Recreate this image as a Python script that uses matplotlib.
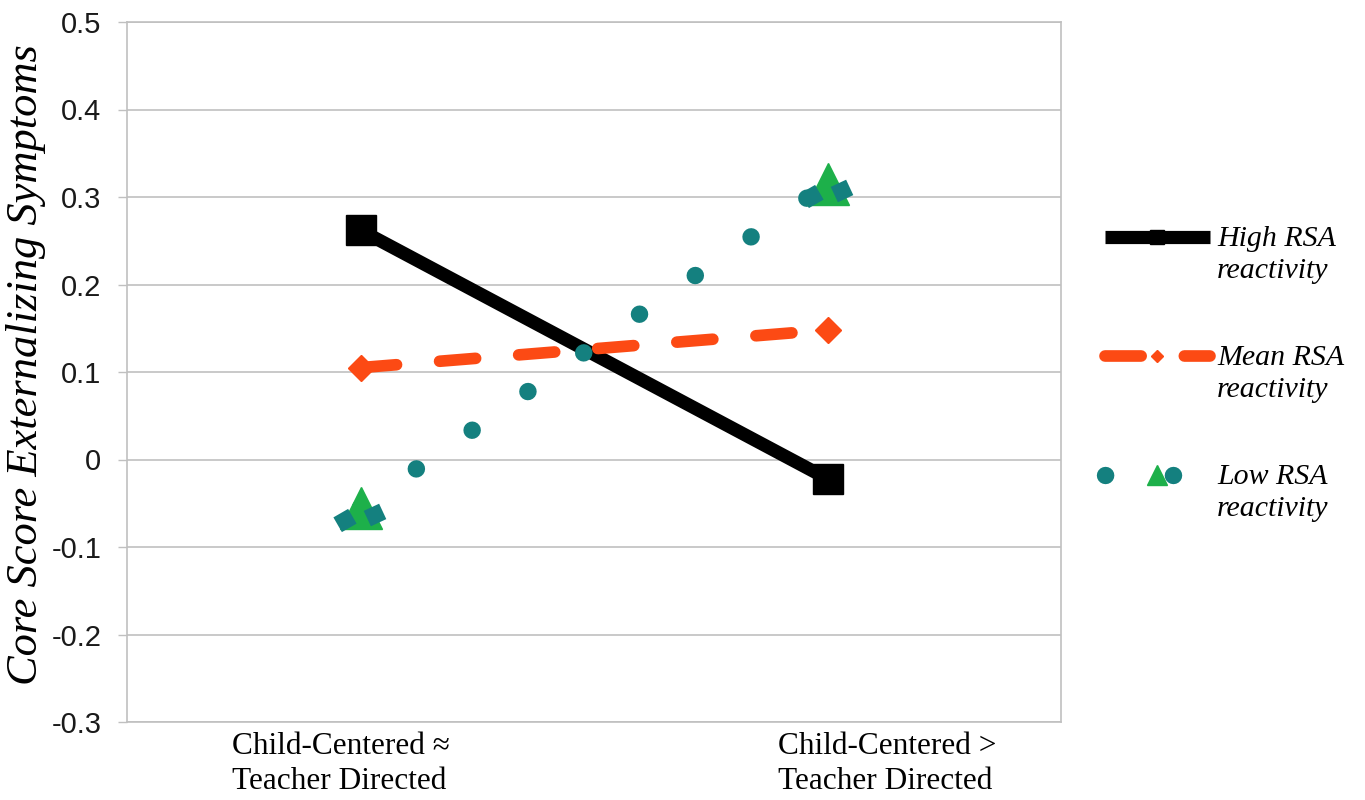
"""
plot.py

Interaction plot: externalizing symptoms by classroom contrast and RSA reactivity.
"""

import matplotlib

matplotlib.use("Agg")
import matplotlib.pyplot as plt
import numpy as np
from matplotlib.legend_handler import HandlerLine2D
from matplotlib.path import Path
from matplotlib.transforms import Affine2D, ScaledTranslation

# --- Data ---
categories = ["Child-Centered \u2248\nTeacher Directed", "Child-Centered >\nTeacher Directed"]
high_rsa = [0.262, -0.022]
mean_rsa = [0.105, 0.148]
low_rsa = [-0.055, 0.315]
series_labels = ["High RSA\nreactivity", "Mean RSA\nreactivity", "Low RSA\nreactivity"]
y_ticks = [-0.3, -0.2, -0.1, 0.0, 0.1, 0.2, 0.3, 0.4, 0.5]
y_tick_labels = ["-0.3", "-0.2", "-0.1", "0", "0.1", "0.2", "0.3", "0.4", "0.5"]

# --- Style ---
BLACK = "#000000"
ORANGE = "#fc4a14"
TEAL = "#14807f"
GREEN = "#1db04a"
GRID = "#c0c0c0"
SERIF = "Liberation Serif"
SANS = "Liberation Sans"
PX = 72 / 100  # pixel -> point at dpi 100


class FirstLineHandler(HandlerLine2D):
    """Legend handle aligned with the first line of a two-line label."""

    def create_artists(self, legend, orig_handle, xdescent, ydescent, width, height, fontsize, trans):
        artists = super().create_artists(legend, orig_handle, xdescent, ydescent, width, height, fontsize, trans)
        for a in artists:
            a.set_ydata(np.asarray(a.get_ydata()) + 0.6 * fontsize)
        return artists


def square_pair_marker():
    """Two tilted teal squares sitting beside the triangle marker (Excel look)."""
    side = 17 * PX
    parts = []
    for cx, cy, ang in [(-16.5, -12, 30), (13.5, -6.5, 25)]:
        t = Affine2D().translate(-0.5, -0.5).scale(side).rotate_deg(ang).translate(cx * PX, cy * PX)
        parts.append(t.transform_path(Path.unit_rectangle()))
    path = Path.make_compound_path(*parts)
    return path, 2 * np.max(np.abs(path.vertices))


def main():
    fig = plt.figure(figsize=(13.65, 8), dpi=100)
    ax = fig.add_axes([127 / 1365, 78 / 800, 934 / 1365, 700 / 800])

    x = np.arange(len(categories))

    ax.plot(x, high_rsa, color=BLACK, lw=9.5, marker="s", ms=21.5,
            solid_capstyle="butt", label=series_labels[0], zorder=3)
    ax.plot(x, mean_rsa, color=ORANGE, lw=8.4, linestyle=(0, (3.1, 3.7)),
            dash_capstyle="round", marker="D", ms=13, label=series_labels[1], zorder=4)
    ax.plot(x, low_rsa, color=TEAL, lw=12.5, linestyle=(0, (0.01, 3.9)),
            dash_capstyle="round", marker="^", ms=30, mfc=GREEN, mec=GREEN,
            label=series_labels[2], zorder=5)
    sq_path, sq_size = square_pair_marker()
    ax.plot(x, low_rsa, linestyle="none", marker=sq_path, ms=sq_size,
            color=TEAL, mec="none", zorder=6)

    ax.set_xlim(-0.5, 1.5)
    ax.set_ylim(-0.3, 0.5)
    ax.set_yticks(y_ticks)
    ax.set_yticklabels(y_tick_labels, fontfamily=SANS, fontsize=21, color="#1a1a1a")
    ax.set_xticks(x)
    ax.set_xticklabels(categories, fontfamily=SERIF, fontsize=22.5, multialignment="left",
                       linespacing=1.3)
    ax.tick_params(axis="x", length=0, pad=7)
    ax.tick_params(axis="y", length=6.5, width=1, color=GRID, pad=12)

    # Excel places the wrapped category labels a little off-centre
    for lab, dx in zip(ax.get_xticklabels(), [-20, 60]):
        lab.set_transform(lab.get_transform() + ScaledTranslation(dx / 100, 0, fig.dpi_scale_trans))

    ax.grid(axis="y", color=GRID, lw=1.2)
    ax.set_axisbelow(True)
    for sp in ax.spines.values():
        sp.set_color(GRID)
        sp.set_linewidth(1.2)

    ax.set_ylabel("Core Score Externalizing Symptoms", fontfamily=SERIF, fontstyle="italic", fontsize=32)
    ax.yaxis.set_label_coords((46 - 127) / 934, 0.51)

    handles, labels = ax.get_legend_handles_labels()
    leg = fig.legend(handles, labels, loc="upper left", bbox_to_anchor=(1105 / 1365, 1 - 226 / 800),
                     frameon=False, borderpad=0, borderaxespad=0, handlelength=3.5,
                     handletextpad=0.25, labelspacing=2.05, markerscale=0.5,
                     prop={"family": SERIF, "style": "italic", "size": 21.5},
                     handler_map={h: FirstLineHandler() for h in handles})
    for t in leg.get_texts():
        t.set_linespacing(1.3)

    fig.savefig("out.png", dpi=100)


if __name__ == "__main__":
    main()
